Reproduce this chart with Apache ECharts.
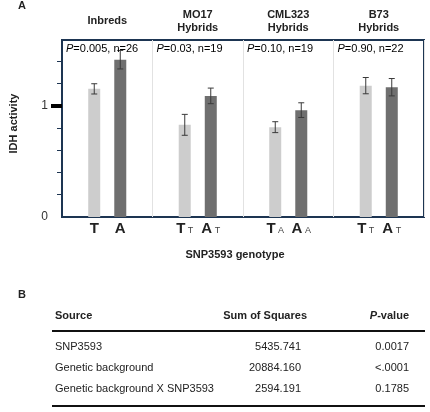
<!DOCTYPE html>
<html><head><meta charset="utf-8">
<script src="https://cdn.jsdelivr.net/npm/echarts@6/dist/echarts.min.js"></script>
<style>html,body{margin:0;padding:0;background:#fff}#c{width:430px;height:412px}</style>
</head><body><div id="c"></div>
<script>
// ---- data ----
const groups = ['Inbreds', 'MO17\nHybrids', 'CML323\nHybrids', 'B73\nHybrids'];
const tValues = [1.151, 0.828, 0.807, 1.180];
const tErrors = [0.046, 0.094, 0.049, 0.073];
const aValues = [1.413, 1.088, 0.960, 1.166];
const aErrors = [0.083, 0.070, 0.066, 0.078];
const tLabels = [['T', ''], ['T', 'T'], ['T', 'A'], ['T', 'T']];
const aLabels = [['A', ''], ['A', 'T'], ['A', 'A'], ['A', 'T']];
const pValues = ['0.005', '0.03', '0.10', '0.90'];
const nValues = [26, 19, 19, 22];
const yTicks = [0.2, 0.4, 0.6, 0.8, 1.0, 1.2, 1.4];
const yTickLabels = [0, 1];
const yMax = 1.59;
const tableHeader = ['Source', 'Sum of Squares', 'P-value'];
const sources = ['SNP3593', 'Genetic background', 'Genetic background X SNP3593'];
const sumSquares = ['5435.741', '20884.160', '2594.191'];
const tablePValues = ['0.0017', '<.0001', '0.1785'];

const FONT = '"Liberation Sans", Arial, Helvetica, sans-serif';
const TXT = '#222';
const chart = echarts.init(document.getElementById('c'), null, {renderer: 'canvas'});

function genoLabel(pair) {
  return pair[1] ? '{b|' + pair[0] + '}{s| ' + pair[1] + '}' : '{b|' + pair[0] + '}';
}
const barLabel = (labels) => ({
  show: true, position: 'bottom', distance: 4,
  formatter: (p) => genoLabel(labels[p.dataIndex]),
  rich: {
    b: {fontFamily: FONT, fontSize: 15, fontWeight: 'bold', color: TXT, lineHeight: 16},
    s: {fontFamily: FONT, fontSize: 9, color: '#444', lineHeight: 12, verticalAlign: 'bottom', padding: [0, 0, 2, 0]}
  }
});

function errorSeries(values, errors, offset) {
  return {
    type: 'custom', xAxisIndex: 0, yAxisIndex: 0, z: 5, silent: true,
    data: values.map((v, i) => [i, v, errors[i]]),
    renderItem: (params, api) => {
      const i = api.value(0), v = api.value(1), e = api.value(2);
      const top = api.coord([i, v + e]);
      const bot = api.coord([i, v - e]);
      const x = top[0] + offset;
      const st = {stroke: '#3a3a3a', lineWidth: 1};
      return {type: 'group', children: [
        {type: 'line', shape: {x1: x, y1: top[1], x2: x, y2: bot[1]}, style: st},
        {type: 'line', shape: {x1: x - 3, y1: top[1], x2: x + 3, y2: top[1]}, style: st},
        {type: 'line', shape: {x1: x - 3, y1: bot[1], x2: x + 3, y2: bot[1]}, style: st}
      ]};
    }
  };
}

// table graphics
const tableEls = [];
const colX = [55, 307, 409];
const headY = 316, rowY = [347, 368, 389];
const txt = (x, y, text, align, bold, rich) => ({
  type: 'text', x: x, y: y, silent: true,
  style: {text: text, fill: TXT, font: (bold ? 'bold ' : '') + '11px ' + FONT,
    textAlign: align, textVerticalAlign: 'middle', rich: rich}
});
tableEls.push(txt(18, 6, 'A', 'left', true));
tableEls.push(txt(18, 295, 'B', 'left', true));
tableEls.push(txt(colX[0], headY, tableHeader[0], 'left', true));
tableEls.push(txt(colX[1], headY, tableHeader[1], 'right', true));
tableEls.push(txt(colX[2], headY, '{i|P}{h|' + tableHeader[2].slice(1) + '}', 'right', true,
  {i: {fontFamily: FONT, fontSize: 11, fontWeight: 'bold', fontStyle: 'italic', color: TXT},
   h: {fontFamily: FONT, fontSize: 11, fontWeight: 'bold', color: TXT}}));
sources.forEach((s, i) => {
  tableEls.push(txt(colX[0], rowY[i], s, 'left', false));
  tableEls.push(txt(colX[1] - 6, rowY[i], sumSquares[i], 'right', false));
  tableEls.push(txt(colX[2], rowY[i], tablePValues[i], 'right', false));
});
tableEls.push({type: 'rect', silent: true, shape: {x: 52, y: 330, width: 373, height: 2}, style: {fill: '#111'}});
tableEls.push({type: 'rect', silent: true, shape: {x: 52, y: 405, width: 373, height: 2}, style: {fill: '#111'}});

const option = {
  animation: false,
  backgroundColor: '#fff',
  textStyle: {fontFamily: FONT},
  grid: {left: 53, right: 6, top: 40, bottom: 195, show: true, borderColor: '#1d3552', borderWidth: 2, backgroundColor: 'transparent'},
  xAxis: [
    {type: 'category', data: groups, position: 'bottom',
     axisLine: {show: false}, axisTick: {show: false}, axisLabel: {show: false},
     splitLine: {show: true, lineStyle: {color: '#e2e2e2', width: 1}},
     name: 'SNP3593 genotype', nameLocation: 'middle', nameGap: 32,
     nameTextStyle: {fontFamily: FONT, fontSize: 11, fontWeight: 'bold', color: TXT, padding: [0, 16, 0, 0]}},
    {type: 'category', data: groups, position: 'top',
     axisLine: {show: false}, axisTick: {show: false},
     axisLabel: {fontFamily: FONT, fontSize: 11, fontWeight: 'bold', color: TXT, lineHeight: 13,
       verticalAlign: 'middle', margin: 19}}
  ],
  yAxis: [
    {type: 'value', min: 0, max: yMax, interval: 0.2,
     axisLine: {show: true, lineStyle: {color: '#1d3552', width: 2}},
     axisTick: {show: true, length: 5, customValues: yTicks, lineStyle: {color: '#1d3552', width: 1}},
     axisLabel: {customValues: yTickLabels, fontFamily: FONT, fontSize: 12, color: '#333', margin: 14},
     splitLine: {show: false},
     name: 'IDH activity', nameLocation: 'middle', nameGap: 43,
     nameTextStyle: {fontFamily: FONT, fontSize: 11, fontWeight: 'bold', color: TXT, padding: [0, 0, 0, 10]}},
    {type: 'value', min: 0, max: yMax, interval: 0.2, position: 'left',
     axisLine: {show: false},
     axisTick: {show: true, length: 11, customValues: [1], lineStyle: {color: '#000', width: 4}},
     axisLabel: {show: false}, splitLine: {show: false}}
  ],
  series: [
    {type: 'bar', name: 'T', data: tValues, barWidth: 12, barGap: '117%',
     itemStyle: {color: '#cdcdcd'}, label: barLabel(tLabels)},
    {type: 'bar', name: 'A', data: aValues, barWidth: 12,
     itemStyle: {color: '#6f6f6f'}, label: barLabel(aLabels)},
    errorSeries(tValues, tErrors, -13),
    errorSeries(aValues, aErrors, 13),
    {type: 'custom', xAxisIndex: 0, yAxisIndex: 0, z: 6, silent: true,
     data: pValues.map((p, i) => [i]),
     renderItem: (params, api) => {
       const i = params.dataIndex;
       const c = api.coord([i, yMax]);
       const band = api.size([1, 0])[0];
       return {type: 'text', style: {
         x: c[0] - band / 2 + 4, y: c[1] + 9,
         text: '{i|P}{r|=' + pValues[i] + ', n=' + nValues[i] + '}',
         textVerticalAlign: 'middle', verticalAlign: 'middle',
         rich: {i: {fontFamily: FONT, fontSize: 11, fontStyle: 'italic', color: '#333'},
                r: {fontFamily: FONT, fontSize: 11, color: '#333'}}
       }};
     }}
  ],
  graphic: tableEls
};
chart.setOption(option);
</script></body></html>
